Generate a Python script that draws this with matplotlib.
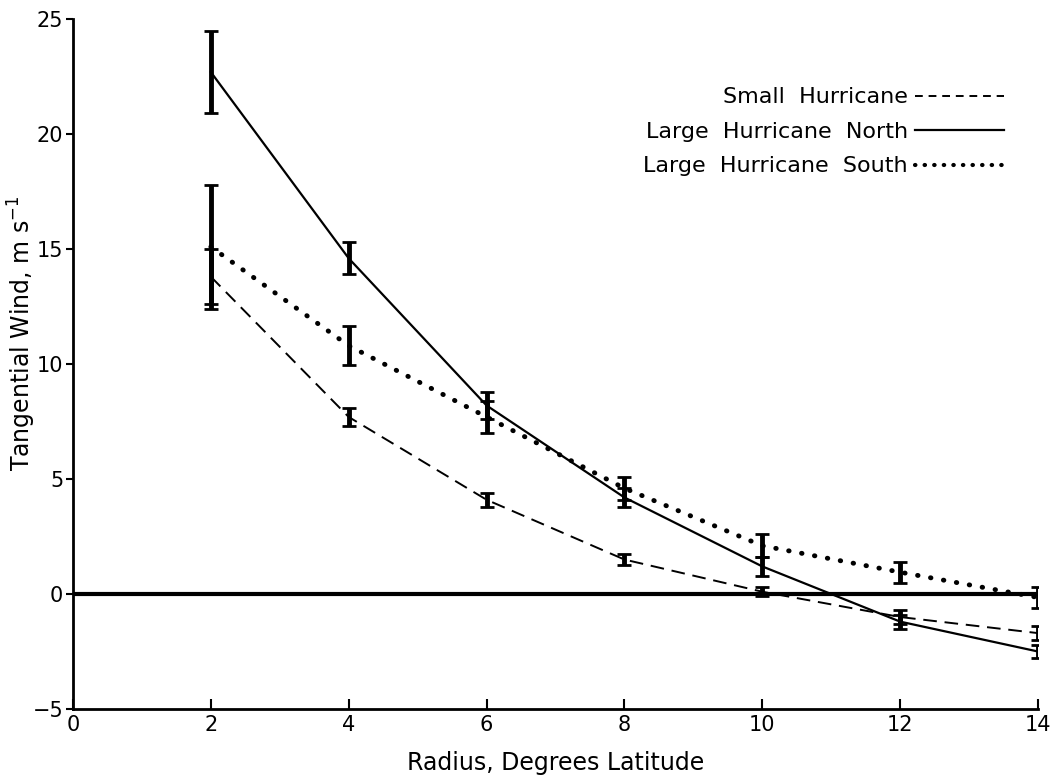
import matplotlib
matplotlib.use('Agg')
import matplotlib.pyplot as plt
from matplotlib.lines import Line2D
import numpy as np

# data
radius = [2, 4, 6, 8, 10, 12, 14]

small = [13.8, 7.7, 4.1, 1.5, 0.1, -1.0, -1.7]
small_err = [1.2, 0.4, 0.3, 0.25, 0.2, 0.3, 0.3]

north = [22.7, 14.6, 8.2, 4.2, 1.2, -1.2, -2.5]
north_err = [1.8, 0.7, 0.6, 0.4, 0.4, 0.3, 0.3]

south = [15.1, 10.8, 7.7, 4.6, 2.1, 0.95, -0.15]
south_err = [2.7, 0.85, 0.7, 0.5, 0.5, 0.45, 0.45]

plt.rcParams['font.family'] = 'DejaVu Sans'

fig = plt.figure(figsize=(10.53, 7.83), dpi=100)
ax = fig.add_axes([0.0693, 0.0945, 0.9165, 0.881])

# zero line
ax.axhline(0, color='black', lw=3, zorder=1)

eb = dict(ecolor='black', elinewidth=3.5, capsize=5, capthick=2)
ax.errorbar(radius, small, yerr=small_err, color='black', lw=1.4,
            linestyle=(0, (7, 4)), **eb)
ax.errorbar(radius, north, yerr=north_err, color='black', lw=1.6,
            linestyle='-', **eb)
ax.errorbar(radius, south, yerr=south_err, color='black', lw=3.5,
            linestyle=(0, (0.1, 2.6)), dash_capstyle='round', **eb)

ax.set_xlim(0, 14)
ax.set_ylim(-5, 25)
ax.set_xticks(np.arange(0, 15, 2))
ax.set_yticks(np.arange(-5, 26, 5))
ax.tick_params(axis='x', direction='in', length=7, width=1.5, labelsize=15, pad=4)
ax.tick_params(axis='y', direction='out', length=5, width=1.5, labelsize=15, pad=2)

for s in ['top', 'right']:
    ax.spines[s].set_visible(False)
for s in ['left', 'bottom']:
    ax.spines[s].set_linewidth(2)

ax.set_xlabel('Radius, Degrees Latitude', fontsize=17, labelpad=12)
ax.set_ylabel('Tangential Wind, m s$^{-1}$', fontsize=17)
ax.yaxis.set_label_coords(-0.036, 0.545)

# legend: text on the left, line sample on the right
handles = [
    Line2D([], [], color='black', lw=1.4, linestyle=(0, (4, 3))),
    Line2D([], [], color='black', lw=1.6, linestyle='-'),
    Line2D([], [], color='black', lw=3, linestyle=(0, (0.1, 2.2)), dash_capstyle='round'),
]
labels = ['Small  Hurricane', 'Large  Hurricane  North', 'Large  Hurricane  South']
ax.legend(handles, labels, frameon=False, markerfirst=False, fontsize=16,
          handlelength=4.0, handletextpad=0.3, labelspacing=0.65,
          loc='upper right', bbox_to_anchor=(0.985, 0.93))

fig.savefig('out.png', dpi=100)
